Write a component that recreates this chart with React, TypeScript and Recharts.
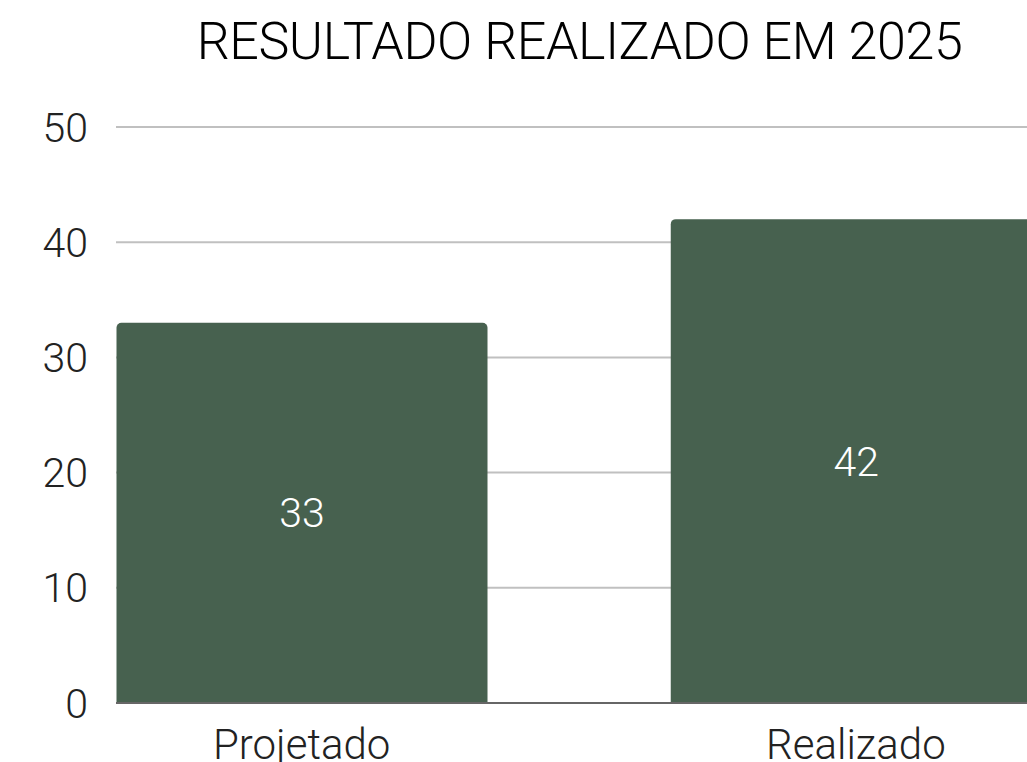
import React from "react";
import { BarChart, Bar, XAxis, YAxis, CartesianGrid, LabelList } from "recharts";

const categories = ["Projetado", "Realizado"];
const values = [33, 42];
const yTicks = [0, 10, 20, 30, 40, 50];
const title = "RESULTADO REALIZADO EM 2025";

const data = categories.map((name, i) => ({ name, value: values[i] }));

const FONT = "Roboto, 'DejaVu Sans', sans-serif";

export default function App() {
  return (
    <div
      style={{
        position: "absolute",
        left: 0,
        top: 0,
        width: 1027,
        height: 762,
        overflow: "hidden",
        background: "#fff",
        fontFamily: FONT,
      }}
    >
      <div
        style={{
          position: "absolute",
          left: 0,
          top: 12,
          width: 1159,
          textAlign: "center",
          fontSize: 52,
          fontWeight: 300,
          color: "#000",
          lineHeight: "60px",
          letterSpacing: -0.4,
        }}
      >
        {title}
      </div>
      <BarChart
        width={1133}
        height={762}
        data={data}
        margin={{ top: 127, right: 0, bottom: 0, left: 0 }}
        style={{ position: "absolute", left: 0, top: 0 }}
      >
        <CartesianGrid vertical={false} stroke="#c0c0c0" strokeWidth={2} />
        <YAxis
          width={116}
          domain={[0, 50]}
          ticks={yTicks}
          interval={0}
          axisLine={false}
          tickLine={false}
          tickMargin={22}
          tick={{ fill: "#222", fontSize: 41, fontFamily: FONT, fontWeight: 300 }}
        />
        <XAxis
          dataKey="name"
          height={59}
          padding={{ left: -91.5, right: 0 }}
          axisLine={{ stroke: "#666", strokeWidth: 2 }}
          tickLine={false}
          tickMargin={20}
          tick={{ fill: "#222", fontSize: 42, fontFamily: FONT, fontWeight: 300 }}
        />
        <Bar dataKey="value" fill="#47614f" barSize={371} radius={[5, 5, 0, 0]} isAnimationActive={false}>
          <LabelList
            dataKey="value"
            position="center"
            fill="#fff"
            style={{ fontSize: 41, fontFamily: FONT, fontWeight: 300 }}
          />
        </Bar>
      </BarChart>
    </div>
  );
}
